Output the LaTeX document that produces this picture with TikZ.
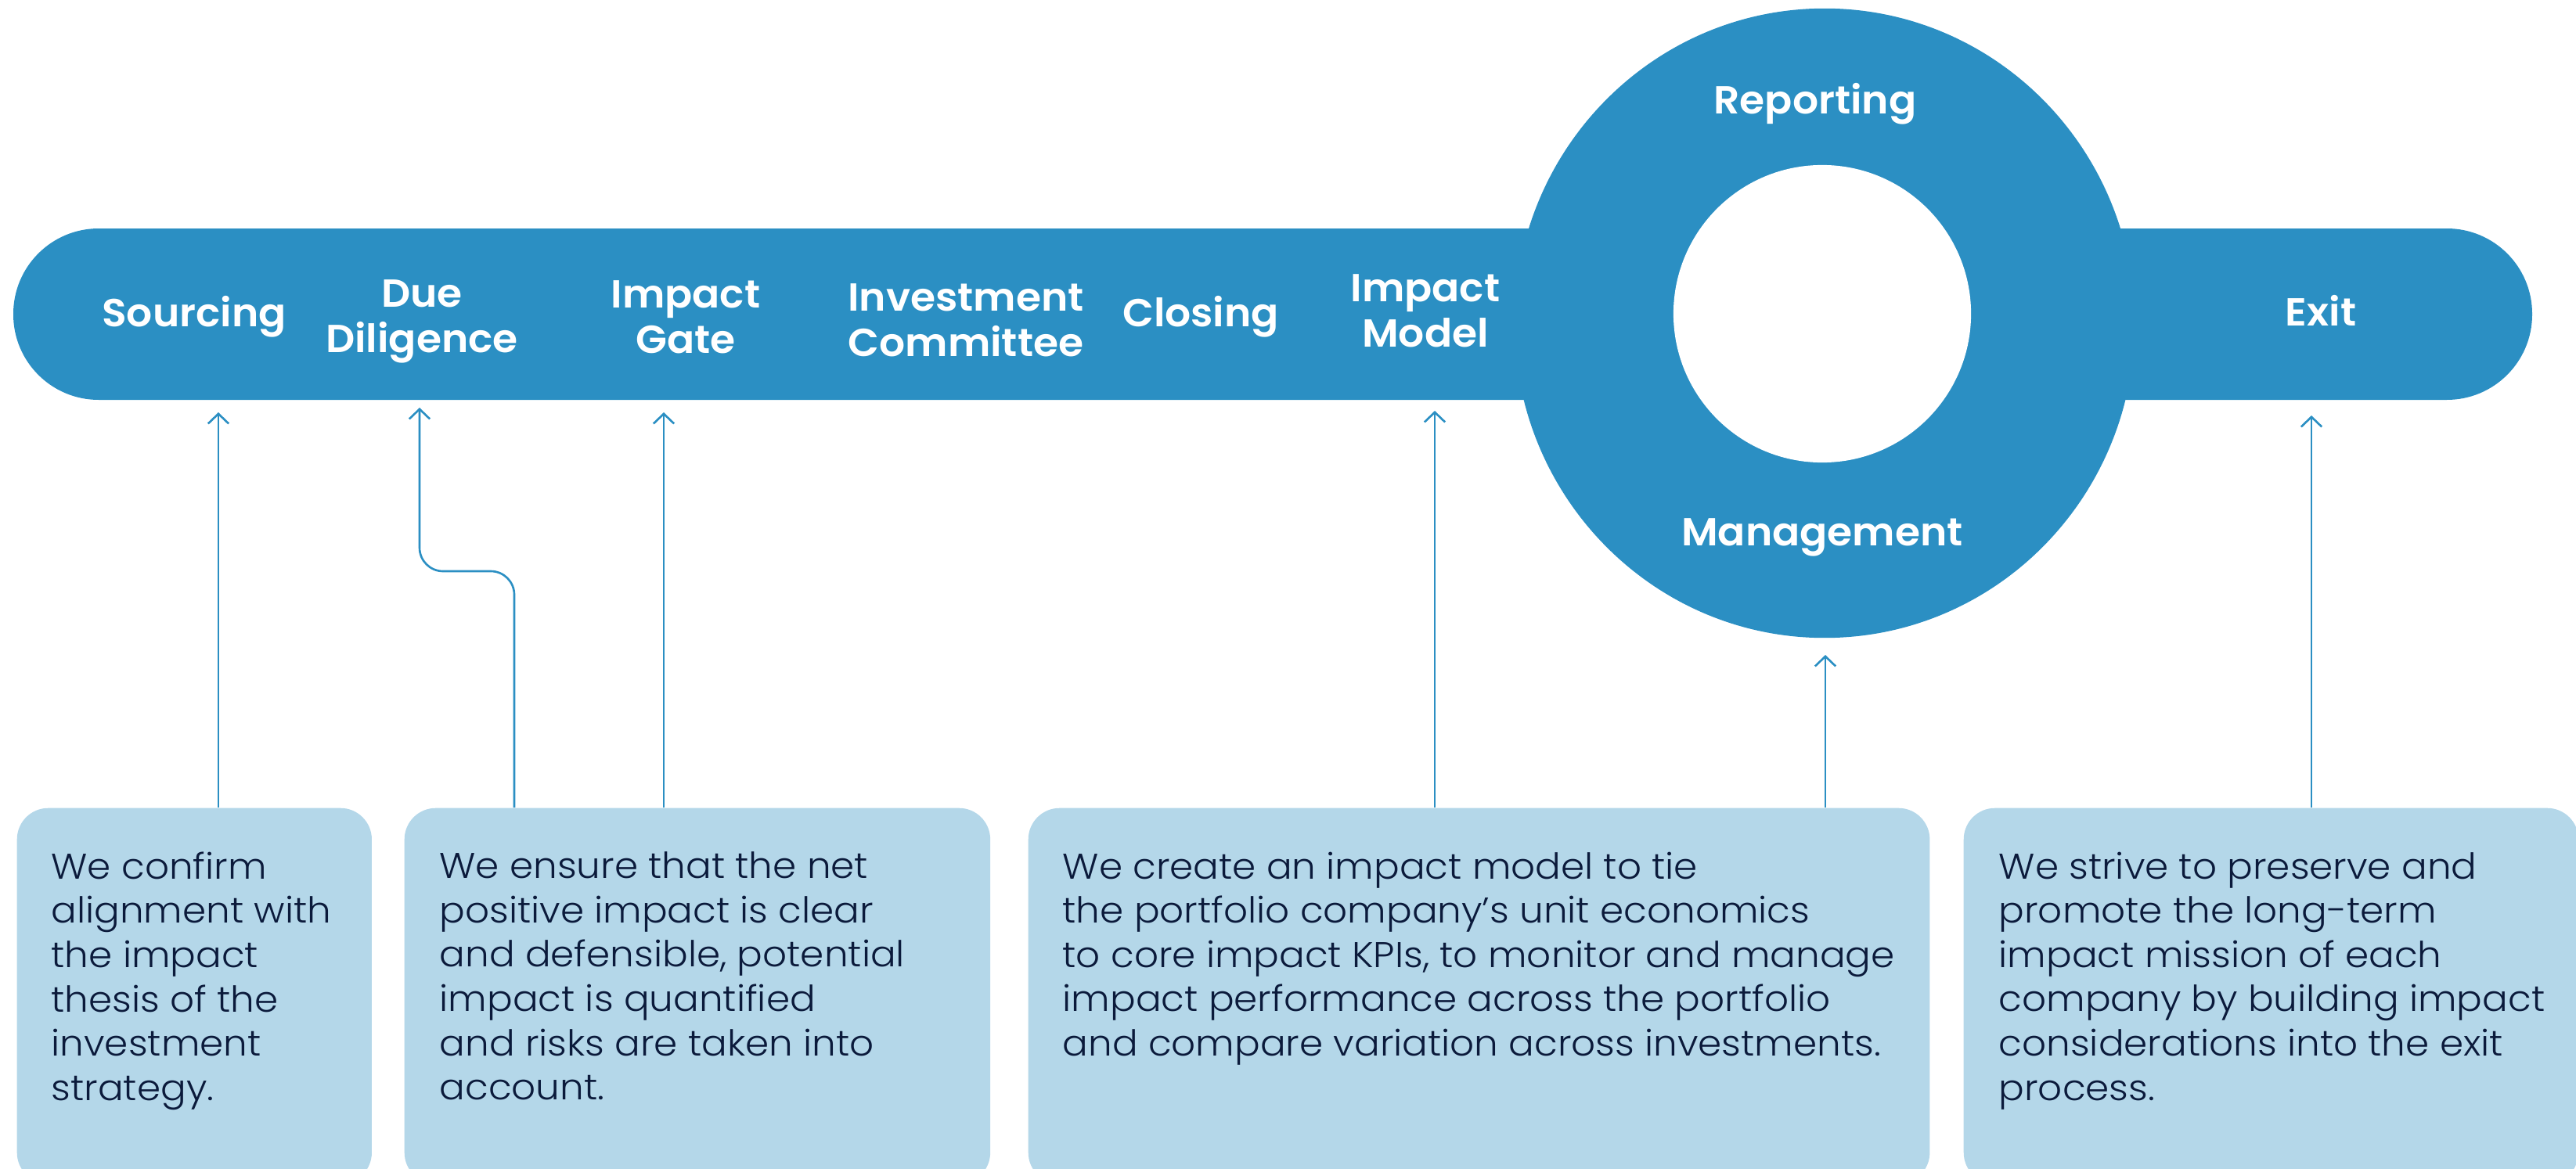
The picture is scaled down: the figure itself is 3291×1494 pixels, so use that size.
\documentclass[tikz,border=0pt]{standalone}
\usepackage{fontspec}
\usetikzlibrary{arrows.meta}
\newfontfamily\labfont{Poppins}[UprightFont={* SemiBold}, FakeStretch=1.04]
\newfontfamily\bodyfont{Poppins}[UprightFont={* Light}, FakeStretch=1.06]
\definecolor{barc}{HTML}{2B8FC3}
\definecolor{boxc}{HTML}{B4D7E9}
\definecolor{txtc}{HTML}{0B1A3B}
\tikzset{
  lab/.style={inner sep=0pt, text=white, font=\labfont\fontsize{14.2}{16.5}\selectfont, align=center},
  card/.style={fill=boxc, rounded corners=0.4cm, inner sep=0pt, anchor=north west},
  body/.style={inner sep=0pt, text=txtc, font=\bodyfont\fontsize{13}{16.1}\selectfont, align=left, anchor=north west},
  arr/.style={draw=barc, line width=0.75pt, -{Straight Barb[length=3.6pt,width=7.5pt,line width=0.75pt]}}
}
\begin{document}
\begin{tikzpicture}[x=0.01cm,y=-0.01cm]
\useasboundingbox (0,0) rectangle (3291,1494);
\clip (0,0) rectangle (3291,1494);
% bar and ring
\fill[barc, rounded corners=1.09cm] (17,292) rectangle (3235,511);
\fill[barc] (2331,413) ellipse [x radius=3.96cm, y radius=4.02cm];
\fill[white] (2328,401) circle [radius=1.9cm];
% stage labels
\node[lab, anchor=base] (src) at (248,417) {Sourcing};
\node[lab, anchor=north] (dd) at (539,357) {Due\\Diligence};
\node[lab, anchor=north] (ig) at (876,358) {Impact\\Gate};
\node[lab, anchor=north] (ic) at (1234,362) {Investment\\Committee};
\node[lab, anchor=base] (cl) at (1534,417) {Closing};
\node[lab, anchor=north] (im) at (1821,350) {Impact\\Model};
\node[lab, anchor=base] (rep) at (2319,146) {Reporting};
\node[lab, anchor=base] (mgt) at (2328,697) {Management};
\node[lab, anchor=base] (ex) at (2965,416) {Exit};
% cards
\node[card, minimum width=4.53cm, minimum height=4.8cm] (b1) at (21,1032) {};
\node[card, minimum width=7.48cm, minimum height=4.8cm] (b2) at (516,1032) {};
\node[card, minimum width=11.51cm, minimum height=4.8cm] (b3) at (1313,1032) {};
\node[card, minimum width=7.85cm, minimum height=4.8cm] (b4) at (2508,1032) {};
\node[body] (tx1) at (65,1088) {We confirm\\alignment with\\the impact\\thesis of the\\investment\\strategy.};
\node[body] (tx2) at (561,1088) {We ensure that the net\\positive impact is clear\\and defensible, potential\\impact is quantified\\and risks are taken into\\account.};
\node[body] (tx3) at (1357,1088) {We create an impact model to tie\\the portfolio company’s unit economics\\to core impact KPIs, to monitor and manage\\impact performance across the portfolio\\and compare variation across investments.};
\node[body] (tx4) at (2553,1088) {We strive to preserve and\\promote the long-term\\impact mission of each\\company by building impact\\considerations into the exit\\process.};
% arrow tips
\coordinate (t1) at (279,527);
\coordinate (t2) at (536,521);
\coordinate (t3) at (848,527);
\coordinate (t4) at (1833,525);
\coordinate (t5) at (2332,837);
\coordinate (t6) at (2953,531);
\coordinate (dda) at (657,730);
\coordinate (ddb) at (536,730);
% connectors
\draw[arr] (b1.north -| t1) -- (t1);
\draw[arr, rounded corners=0.3cm] (b2.north -| dda) -- (dda) -- (ddb) -- (t2);
\draw[arr] (b2.north -| t3) -- (t3);
\draw[arr] (b3.north -| t4) -- (t4);
\draw[arr] (b3.north -| t5) -- (t5);
\draw[arr] (b4.north -| t6) -- (t6);
\end{tikzpicture}
\end{document}
